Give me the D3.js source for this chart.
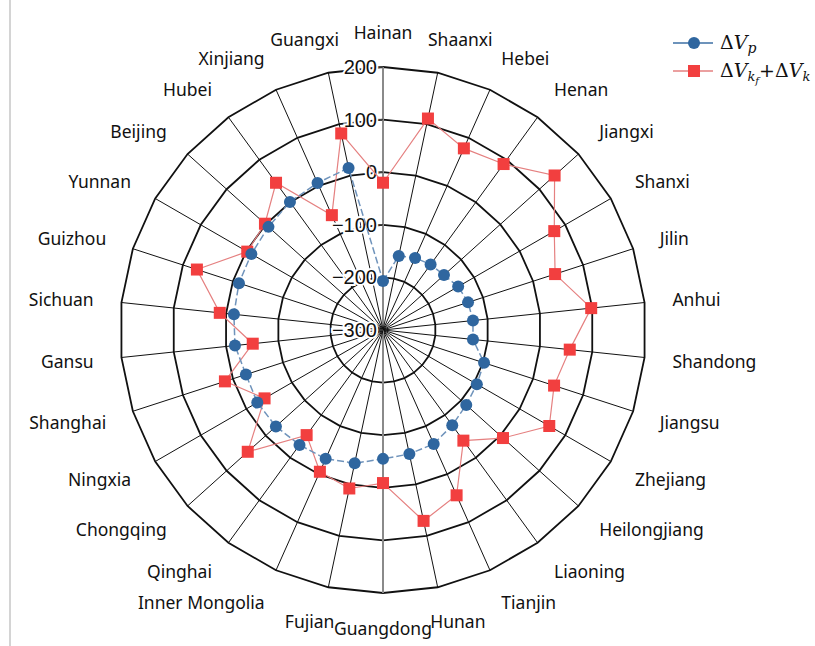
<!DOCTYPE html>
<html>
<head>
<script src="https://d3js.org/d3.v7.min.js"></script>
<style>
  body { margin: 0; background: #fff; }
</style>
</head>
<body>
<script>
var categories = ['Hainan','Shaanxi','Hebei','Henan','Jiangxi','Shanxi','Jilin','Anhui','Shandong','Jiangsu',
    'Zhejiang','Heilongjiang','Liaoning','Tianjin','Hunan','Guangdong','Fujian','Inner Mongolia','Qinghai','Chongqing',
    'Ningxia','Shanghai','Gansu','Sichuan','Guizhou','Yunnan','Beijing','Hubei','Xinjiang','Guangxi']
var dVp = [-207,-156,-150,-146,-144,-135,-130,-128,-128,-98,
    -94,-87,-76,-63,-59,-55,-41,-32,-30,-26,
    -24,-26,-17,-15,-12,-11,-7,1,6,15]
var dVk = [-20,111,78,90,139,76,44,98,57,42,
    65,7,-40,44,71,-9,8,-5,-53,46,
    -40,16,-51,12,72,-2,2,46,-61,82]
var ticks = [-300,-200,-100,0,100,200]

var w = 815, h = 646
var cx = 383, cy = 330
var n = categories.length

var svg = d3.select('body').append('svg')
    .attr('width', w).attr('height', h)

// faint frame line at left edge
svg.append('line')
    .attr('x1', 10).attr('x2', 10).attr('y1', 0).attr('y2', h)
    .attr('stroke', '#d4d4d4').attr('stroke-width', 2)

var r = d3.scaleLinear().domain([-300, 200]).range([0, 263])
var angle = d3.scaleLinear().domain([0, n]).range([0, 2 * Math.PI])

var g = svg.append('g').attr('transform', 'translate(' + cx + ',' + cy + ')')

function px(i, v) { return r(v) * Math.sin(angle(i)) }
function py(i, v) { return -r(v) * Math.cos(angle(i)) }

// rings (30-sided polygons)
var ring = d3.lineRadial()
    .angle(function(d) { return angle(d[0]) })
    .radius(function(d) { return r(d[1]) })
    .curve(d3.curveLinearClosed)

ticks.slice(1).forEach(function(t) {
    g.append('path')
        .attr('d', ring(d3.range(n).map(function(i) { return [i, t] })))
        .attr('fill', 'none')
        .attr('stroke', '#111')
        .attr('stroke-width', 1.8)
})

// spokes
g.selectAll('.spoke').data(d3.range(n)).enter().append('line')
    .attr('class', 'spoke')
    .attr('x1', 0).attr('y1', 0)
    .attr('x2', function(i) { return px(i, 200) })
    .attr('y2', function(i) { return py(i, 200) })
    .attr('stroke', function(i) { return (i === 0 || i === 15) ? '#8a8a8a' : '#111' })
    .attr('stroke-width', function(i) { return (i === 0 || i === 15) ? 2 : 1 })

// radial axis ticks + labels
ticks.forEach(function(t) {
    g.append('line')
        .attr('x1', -6).attr('x2', 0)
        .attr('y1', -r(t)).attr('y2', -r(t))
        .attr('stroke', '#444').attr('stroke-width', 1.5)
    g.append('text')
        .attr('x', -6).attr('y', -r(t))
        .attr('text-anchor', 'end')
        .attr('dominant-baseline', 'central')
        .attr('font-family', 'Liberation Sans, Arial, sans-serif')
        .attr('font-size', 20)
        .attr('fill', '#111')
        .attr('stroke', '#fff').attr('stroke-width', 4)
        .attr('paint-order', 'stroke')
        .text(String(t).replace('-', '\u2212'))
})

// category labels
var R0 = 291
categories.forEach(function(c, i) {
    var a = angle(i)
    var s = Math.sin(a), co = Math.cos(a)
    var t = svg.append('text')
        .attr('font-family', 'Noto Sans, sans-serif')
        .attr('font-size', 17.5)
        .attr('fill', '#111')
        .attr('text-anchor', 'middle')
        .attr('dominant-baseline', 'central')
        .text(c)
    var tw = t.node().getComputedTextLength()
    var f = Math.max(-1, Math.min(1, s * 2.5))
    t.attr('x', cx + R0 * s + f * tw / 2)
     .attr('y', cy - R0 * co - co * 7)
})

// series lines
var line = d3.line()
    .x(function(d, i) { return px(i, d) })
    .y(function(d, i) { return py(i, d) })
    .curve(d3.curveLinearClosed)

g.append('path')
    .attr('d', line(dVk))
    .attr('fill', 'none')
    .attr('stroke', '#e58080')
    .attr('stroke-width', 1.2)

g.selectAll('.sq').data(dVk).enter().append('rect')
    .attr('class', 'sq')
    .attr('x', function(d, i) { return px(i, d) - 6 })
    .attr('y', function(d, i) { return py(i, d) - 6 })
    .attr('width', 12).attr('height', 12)
    .attr('fill', '#f23f3f')

g.append('path')
    .attr('d', line(dVp))
    .attr('fill', 'none')
    .attr('stroke', '#6f93bb')
    .attr('stroke-width', 1.5)
    .attr('stroke-dasharray', '7,3')

g.selectAll('.dot').data(dVp).enter().append('circle')
    .attr('class', 'dot')
    .attr('cx', function(d, i) { return px(i, d) })
    .attr('cy', function(d, i) { return py(i, d) })
    .attr('r', 6)
    .attr('fill', '#2f669f')

// legend
var lg = svg.append('g')
lg.append('line').attr('x1', 673).attr('x2', 713).attr('y1', 43).attr('y2', 43)
    .attr('stroke', '#3d6fa5').attr('stroke-width', 1.5)
lg.append('circle').attr('cx', 694).attr('cy', 43).attr('r', 6).attr('fill', '#2f669f')
lg.append('line').attr('x1', 673).attr('x2', 713).attr('y1', 71).attr('y2', 71)
    .attr('stroke', '#e58080').attr('stroke-width', 1.5)
lg.append('rect').attr('x', 688).attr('y', 65).attr('width', 12).attr('height', 12).attr('fill', '#f23f3f')

var t1 = lg.append('text').attr('x', 720).attr('y', 49)
    .attr('font-family', 'DejaVu Serif, serif').attr('font-size', 19).attr('fill', '#111')
t1.append('tspan').text('\u0394')
t1.append('tspan').attr('font-style', 'italic').text('V')
t1.append('tspan').attr('font-style', 'italic').attr('font-size', 14).attr('dy', 4).text('p')

var t2 = lg.append('text').attr('x', 720).attr('y', 77)
    .attr('font-family', 'DejaVu Serif, serif').attr('font-size', 19).attr('fill', '#111')
t2.append('tspan').text('\u0394')
t2.append('tspan').attr('font-style', 'italic').text('V')
t2.append('tspan').attr('font-style', 'italic').attr('font-size', 13).attr('dy', 4).text('k')
t2.append('tspan').attr('font-style', 'italic').attr('font-size', 10).attr('dy', 3).text('f')
t2.append('tspan').attr('dy', -7).text('+\u0394')
t2.append('tspan').attr('font-style', 'italic').text('V')
t2.append('tspan').attr('font-style', 'italic').attr('font-size', 13).attr('dy', 4).text('k')
</script>
</body>
</html>
